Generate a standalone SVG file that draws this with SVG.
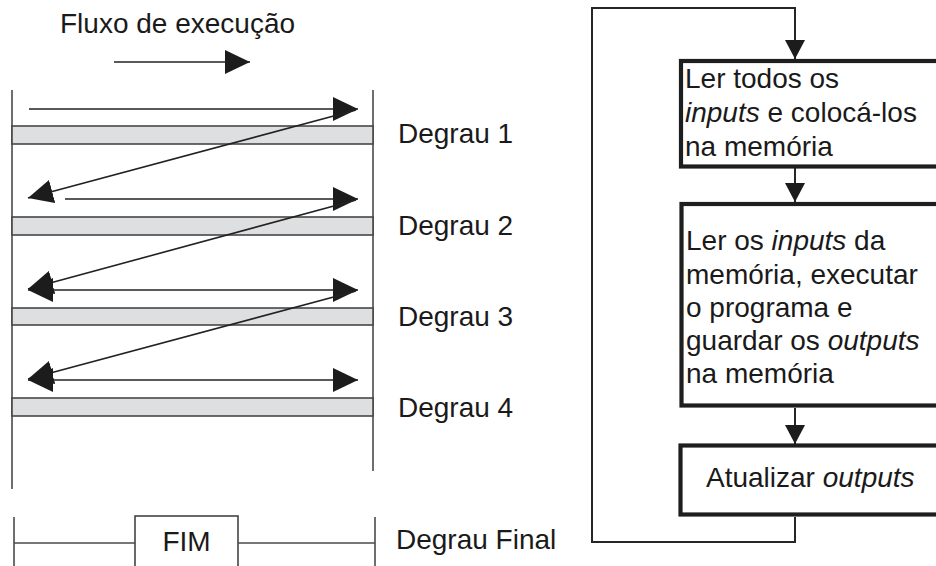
<svg xmlns="http://www.w3.org/2000/svg" width="936" height="566" viewBox="0 0 936 566">
  <style>
    text { font-family: "Liberation Sans", Arial, Helvetica, sans-serif; font-size: 28px; fill: #1a1a1a; }
    .it { font-style: italic; }
    .rail { stroke: #4a4a4a; stroke-width: 1.6; fill: none; }
    .rung { fill: #dedfe1; stroke: #474747; stroke-width: 1.6; }
    .flow { stroke: #222; stroke-width: 1.6; fill: none; }
    .conn { stroke: #262626; stroke-width: 2; fill: none; }
    .box { fill: #fff; stroke: #1e1e1e; stroke-width: 4.2; }
    .fim { fill: #fff; stroke: #444; stroke-width: 1.6; }
  </style>
  <defs>
    <marker id="scanHead" viewBox="0 0 25 24" refX="25" refY="12" markerWidth="25" markerHeight="24" markerUnits="userSpaceOnUse" orient="auto-start-reverse">
      <path d="M0,0 L25,12 L0,24 Z" fill="#1c1c1c"/>
    </marker>
    <marker id="flowHead" viewBox="0 0 20 19" refX="10" refY="19" markerWidth="20" markerHeight="19" markerUnits="userSpaceOnUse" orient="0">
      <path d="M0,0 L20,0 L10,19 Z" fill="#1c1c1c"/>
    </marker>
  </defs>

  <!-- Scan direction legend -->
  <g id="legend">
    <text x="60" y="33">Fluxo de execução</text>
    <line class="flow" x1="114" y1="62" x2="250" y2="62" marker-end="url(#scanHead)"/>
  </g>

  <!-- Ladder rails -->
  <g id="ladder">
    <line class="rail" x1="12" y1="90" x2="12" y2="489"/>
    <line class="rail" x1="373" y1="90" x2="373" y2="471"/>
  </g>

  <!-- Rungs -->
  <g id="rung1">
    <rect class="rung" x="12" y="126" width="361" height="18"/>
    <text x="398" y="143">Degrau 1</text>
  </g>
  <g id="rung2">
    <rect class="rung" x="12" y="217" width="361" height="18"/>
    <text x="398" y="235">Degrau 2</text>
  </g>
  <g id="rung3">
    <rect class="rung" x="12" y="308" width="361" height="17"/>
    <text x="398" y="326">Degrau 3</text>
  </g>
  <g id="rung4">
    <rect class="rung" x="12" y="398" width="361" height="18"/>
    <text x="398" y="417">Degrau 4</text>
  </g>

  <!-- Final rung with END instruction -->
  <g id="rungFinal">
    <line class="rail" x1="14" y1="517" x2="14" y2="570"/>
    <line class="rail" x1="375" y1="517" x2="375" y2="570"/>
    <line class="rail" x1="14" y1="543" x2="135" y2="543"/>
    <line class="rail" x1="238" y1="543" x2="375" y2="543"/>
    <rect class="fim" x="135" y="516" width="103" height="70"/>
    <text x="186.5" y="551" text-anchor="middle">FIM</text>
    <text x="396" y="549">Degrau Final</text>
  </g>

  <!-- Scan path across the rungs -->
  <g id="scan">
    <line class="flow" x1="29" y1="109" x2="358" y2="109" marker-end="url(#scanHead)"/>
    <line class="flow" x1="356" y1="110" x2="28" y2="198" marker-end="url(#scanHead)"/>
    <line class="flow" x1="65" y1="199" x2="358" y2="199" marker-end="url(#scanHead)"/>
    <line class="flow" x1="356" y1="200" x2="28" y2="289" marker-end="url(#scanHead)"/>
    <line class="flow" x1="28" y1="290" x2="358" y2="290" marker-start="url(#scanHead)" marker-end="url(#scanHead)"/>
    <line class="flow" x1="356" y1="291" x2="28" y2="379" marker-end="url(#scanHead)"/>
    <line class="flow" x1="28" y1="380" x2="358" y2="380" marker-start="url(#scanHead)" marker-end="url(#scanHead)"/>
  </g>

  <!-- Scan cycle flowchart -->
  <g id="connectors">
    <path class="conn" d="M795,517 V542 H592 V8 H795 V59" marker-end="url(#flowHead)"/>
    <path class="conn" d="M795,168 V202" marker-end="url(#flowHead)"/>
    <path class="conn" d="M795,408 V444" marker-end="url(#flowHead)"/>
  </g>

  <g id="readInputs">
    <rect class="box" x="681" y="61" width="290" height="105.5"/>
    <text x="685" y="88">Ler todos os</text>
    <text x="685" y="122"><tspan class="it">inputs</tspan> e colocá-los</text>
    <text x="685" y="156">na memória</text>
  </g>

  <g id="execute">
    <rect class="box" x="681.5" y="204" width="290" height="201.5"/>
    <text x="686" y="250">Ler os <tspan class="it">inputs</tspan> da</text>
    <text x="686" y="283.5">memória, executar</text>
    <text x="686" y="317">o programa e</text>
    <text x="686" y="350">guardar os <tspan class="it">outputs</tspan></text>
    <text x="686" y="383">na memória</text>
  </g>

  <g id="updateOutputs">
    <rect class="box" x="680.5" y="445.5" width="290" height="69"/>
    <text x="706" y="487">Atualizar <tspan class="it">outputs</tspan></text>
  </g>
</svg>
